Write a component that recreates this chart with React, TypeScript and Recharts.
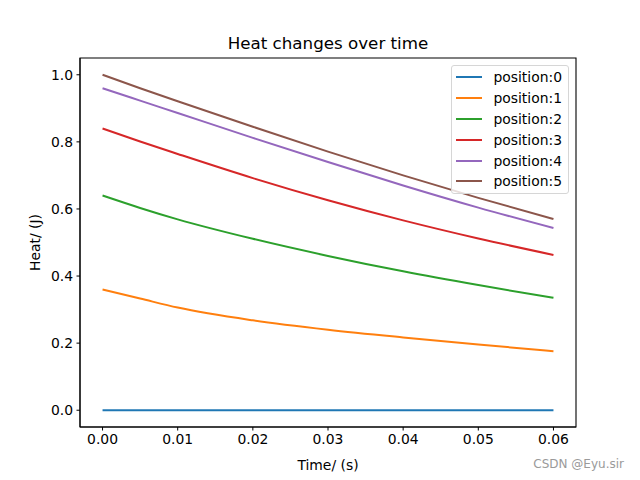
import { LineChart, Line, XAxis, YAxis, Legend, ReferenceArea } from 'recharts';

const times = [0, 0.005, 0.01, 0.02, 0.03, 0.04, 0.05, 0.06];
const position0 = [0, 0, 0, 0, 0, 0, 0, 0];
const position1 = [0.36, 0.333, 0.306, 0.268, 0.24, 0.217, 0.196, 0.176];
const position2 = [0.64, 0.603, 0.569, 0.511, 0.46, 0.414, 0.373, 0.335];
const position3 = [0.84, 0.801, 0.764, 0.692, 0.626, 0.566, 0.512, 0.463];
const position4 = [0.96, 0.923, 0.886, 0.812, 0.74, 0.67, 0.604, 0.543];
const position5 = [1.0, 0.96, 0.921, 0.845, 0.771, 0.7, 0.633, 0.57];

const xTicks = [0, 0.01, 0.02, 0.03, 0.04, 0.05, 0.06];
const yTicks = [0, 0.2, 0.4, 0.6, 0.8, 1.0];

const series = [
  { key: 'p0', name: 'position:0', values: position0, color: '#1f77b4' },
  { key: 'p1', name: 'position:1', values: position1, color: '#ff7f0e' },
  { key: 'p2', name: 'position:2', values: position2, color: '#2ca02c' },
  { key: 'p3', name: 'position:3', values: position3, color: '#d62728' },
  { key: 'p4', name: 'position:4', values: position4, color: '#9467bd' },
  { key: 'p5', name: 'position:5', values: position5, color: '#8c564b' },
];

const data = times.map((t, i) => {
  const row: Record<string, number> = { t };
  series.forEach((s) => {
    row[s.key] = s.values[i];
  });
  return row;
});

const font = '"DejaVu Sans", sans-serif';
const tickStyle = { fill: '#000', fontSize: 13.9, fontFamily: font };

function LegendBox() {
  return (
    <div
      style={{
        background: 'rgba(255,255,255,0.8)',
        border: '1px solid #d6d6d6',
        borderRadius: 3,
        padding: '1px 6px 1px 4px',
        fontFamily: font,
        fontSize: 13.9,
        color: '#000',
        boxSizing: 'border-box',
        width: 118,
      }}
    >
      {series.map((s) => (
        <div key={s.key} style={{ display: 'flex', alignItems: 'center', height: 20.8 }}>
          <span
            style={{
              display: 'inline-block',
              width: 28,
              height: 2,
              background: s.color,
              marginRight: 11,
            }}
          />
          <span>{s.name}</span>
        </div>
      ))}
    </div>
  );
}

export default function App() {
  return (
    <div style={{ width: 640, height: 480, position: 'relative', background: '#fff' }}>
      <style>{'body{margin:0}'}</style>
      <LineChart
        width={640}
        height={480}
        data={data}
        margin={{ top: 58, right: 64, left: 20, bottom: 10 }}
      >
        <XAxis
          dataKey="t"
          type="number"
          domain={[-0.003, 0.063]}
          ticks={xTicks}
          allowDataOverflow
          tickFormatter={(v: number) => v.toFixed(2)}
          tick={tickStyle}
          tickSize={3.5}
          tickMargin={3.5}
          stroke="#000"
          height={43}
          label={{
            value: 'Time/ (s)',
            position: 'insideBottom',
            offset: 0,
            style: { fill: '#000', fontSize: 13.9, fontFamily: font },
          }}
        />
        <YAxis
          type="number"
          domain={[-0.05, 1.05]}
          ticks={yTicks}
          allowDataOverflow
          tickFormatter={(v: number) => v.toFixed(1)}
          tick={tickStyle}
          tickSize={3.5}
          tickMargin={3.5}
          stroke="#000"
          width={60}
          label={{
            value: 'Heat/ (J)',
            angle: -90,
            position: 'insideLeft',
            offset: 15,
            style: { fill: '#000', fontSize: 13.9, fontFamily: font, textAnchor: 'middle' },
          }}
        />
        <ReferenceArea
          x1={-0.003}
          x2={0.063}
          y1={-0.05}
          y2={1.05}
          fill="none"
          fillOpacity={0}
          stroke="#000"
          strokeWidth={1.1}
        />
        {series.map((s) => (
          <Line
            key={s.key}
            type="monotone"
            dataKey={s.key}
            name={s.name}
            stroke={s.color}
            strokeWidth={2}
            dot={false}
            isAnimationActive={false}
          />
        ))}
        <Legend
          layout="vertical"
          align="center"
          verticalAlign="middle"
          content={() => <LegendBox />}
          wrapperStyle={{ left: 451, top: 65, width: 118 }}
        />
        <text
          x={328}
          y={43}
          textAnchor="middle"
          dominantBaseline="central"
          style={{ fontSize: 16.7, fontFamily: font, fill: '#000' }}
        >
          Heat changes over time
        </text>
        <text
          x={624}
          y={468}
          textAnchor="end"
          style={{ fontSize: 12, fontFamily: font, fill: '#9a9a9a' }}
        >
          CSDN @Eyu.sir
        </text>
      </LineChart>
    </div>
  );
}
